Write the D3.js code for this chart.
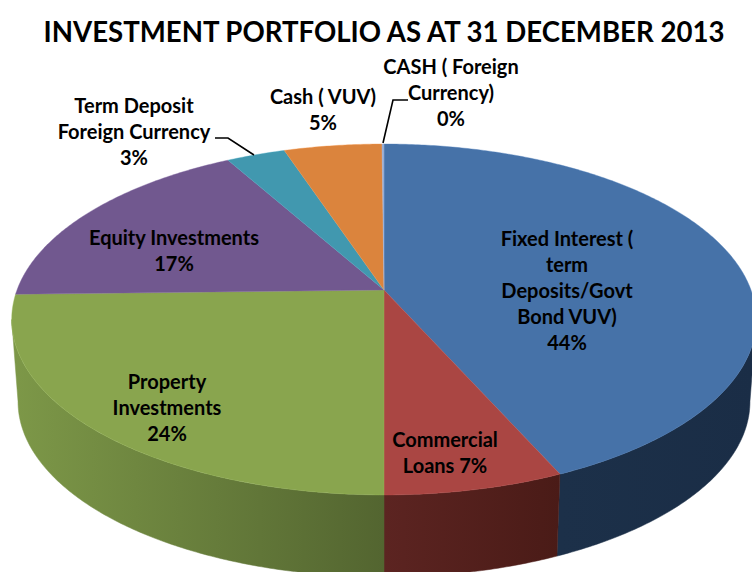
<!DOCTYPE html>
<html>
<head>
<meta charset="utf-8">
<script src="https://cdn.jsdelivr.net/npm/d3@7/dist/d3.min.js"></script>
<style>
html,body{margin:0;padding:0;background:#fff;overflow:hidden}
svg{display:block}
text{font-family:Lato,"Open Sans",sans-serif;font-weight:700;fill:#000}
</style>
</head>
<body>
<svg id="c" width="752" height="572"></svg>
<script>
const titleText = "INVESTMENT PORTFOLIO AS AT 31 DECEMBER 2013";
const categories = ["Fixed Interest ( term Deposits/Govt Bond VUV)","Commercial Loans","Property Investments","Equity Investments","Term Deposit Foreign Currency","Cash ( VUV)","CASH ( Foreign Currency)"];
const values = [43.35, 6.65, 24.6, 17.3, 3.0, 5.0, 0.1];
const labelLines = [
  ["Fixed Interest (","term","Deposits/Govt","Bond VUV)","44%"],
  ["Commercial","Loans 7%"],
  ["Property","Investments","24%"],
  ["Equity Investments","17%"],
  ["Term Deposit","Foreign Currency","3%"],
  ["Cash ( VUV)","5%"],
  ["CASH ( Foreign","Currency)","0%"]
];
const colors = ["#4672a8","#aa4643","#89a54e","#71588f","#4198af","#db843d","#93a9cf"];
const wallStops = [
  ["#1c3049","#1a2d46"],["#5c2421","#4a1b17"],["#7d9848","#536530"],
  ["#4a3a60","#4a3a60"],["#2b6475","#2b6475"],["#90562a","#90562a"],["#606f88","#606f88"]
];
// layout
const labelAnchors = [[567,246],[445,447],[167,389],[174,245],[134,113],[323,104],[451,74]];
const lineStep = 26;
const leaders = [[[215,138],[228,138],[254,155]],[[408,100],[393,100],[383,143]]];

const svg = d3.select("#c");
const cx = 384, cy = 290, R = 367, S = 170.5, K = 0.168, depth = 82, bottomScale = 0.983;
const TAU = 2*Math.PI;
// perspective projection of a point on the pie disc
const proj = (a, r=1, bottom=false) => {
  const u = r*Math.sin(a), v = -r*Math.cos(a), d = 1 - K*v;
  const s = bottom ? bottomScale : 1;
  return [cx + s*R*u/d, cy + S*v/d + (bottom ? depth : 0)];
};
const arcs = d3.pie().sort(null).value(d=>d)(values);
const line = d3.line();
const samples = (a0,a1) => {
  const n = Math.max(2, Math.ceil((a1-a0)/0.01));
  return d3.range(n+1).map(i => a0 + (a1-a0)*i/n);
};
// silhouette angles: where the projected outline is tangent
const tanR = Math.acos(-K), tanL = TAU - tanR;

const defs = svg.append("defs");
arcs.forEach((d,i) => {
  const a0 = Math.max(d.startAngle, tanR), a1 = Math.min(d.endAngle, tanL);
  if (a1 <= a0) return;
  const xs = [proj(a0)[0], proj(a1)[0]];
  const g = defs.append("linearGradient").attr("id","w"+i).attr("gradientUnits","userSpaceOnUse")
    .attr("x1",d3.min(xs)).attr("x2",d3.max(xs)).attr("y1",0).attr("y2",0);
  const st = wallStops[i];
  g.append("stop").attr("offset",0).attr("stop-color",st[0]);
  g.append("stop").attr("offset",1).attr("stop-color",st[1]);
  const as = samples(a0,a1);
  const pts = as.map(a=>proj(a)).concat(as.slice().reverse().map(a=>proj(a,1,true)));
  svg.append("path").attr("d",line(pts)+"Z").attr("fill",`url(#w${i})`).attr("stroke",`url(#w${i})`).attr("stroke-width",0.5);
});
arcs.forEach((d,i) => {
  const pts = [[cx,cy]].concat(samples(d.startAngle,d.endAngle).map(a=>proj(a)));
  svg.append("path").attr("d",line(pts)+"Z").attr("fill",colors[i])
    .attr("stroke",d3.color(colors[i]).brighter(0.3)).attr("stroke-width",0.4);
});
leaders.forEach(p => svg.append("path").attr("d",line(p)).attr("fill","none").attr("stroke","#000").attr("stroke-width",1.6));
labelLines.forEach((lines,i) => {
  const t = svg.append("text").attr("font-size",20).attr("text-anchor","middle");
  lines.forEach((s,j) => t.append("tspan").attr("x",labelAnchors[i][0]).attr("y",labelAnchors[i][1]+j*lineStep).text(s));
});
svg.append("text").attr("x",384).attr("y",42).attr("text-anchor","middle").attr("font-size",27.6).text(titleText);
</script>
</body>
</html>
